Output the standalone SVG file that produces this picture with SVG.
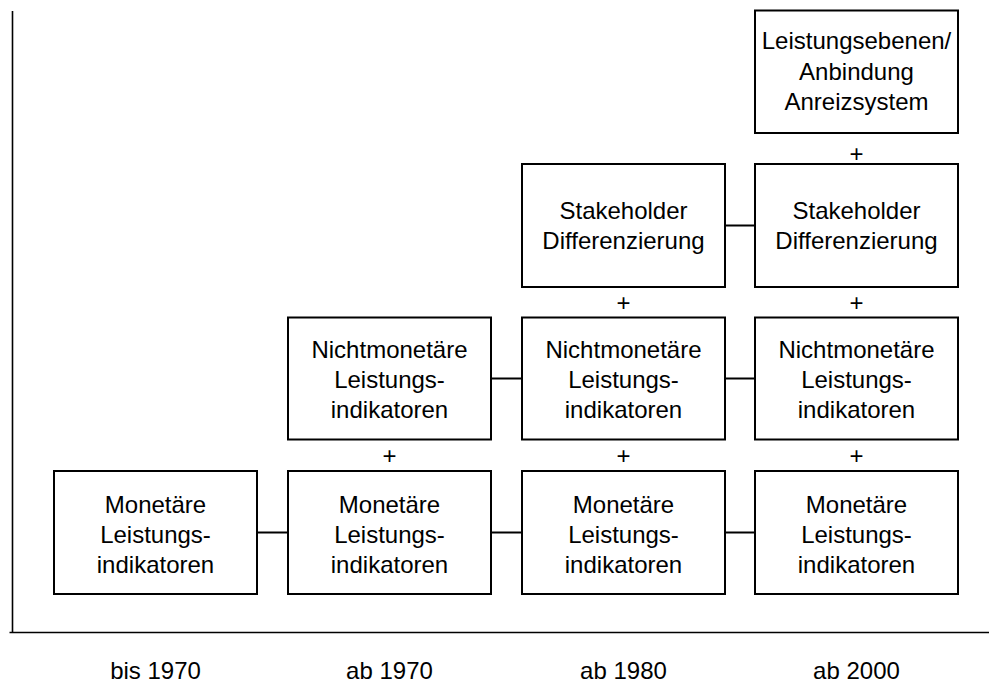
<svg xmlns="http://www.w3.org/2000/svg" width="989" height="684" viewBox="0 0 989 684">
  <style>
    .box rect { fill: #ffffff; stroke: #000000; stroke-width: 2; }
    text { font-family: "Liberation Sans", Arial, sans-serif; font-size: 24px; fill: #000000; text-anchor: middle; }
    .link { stroke: #000000; stroke-width: 2; fill: none; }
    .axis { stroke: #000000; stroke-width: 1.6; fill: none; }
  </style>
  <rect width="989" height="684" fill="#ffffff"/>

  <!-- axes -->
  <g id="axes">
    <line class="axis" x1="12.5" y1="11" x2="12.5" y2="633"/>
    <line class="axis" x1="9.5" y1="632.5" x2="989" y2="632.5"/>
  </g>

  <!-- horizontal connectors between periods -->
  <g id="connectors">
    <line class="link" x1="257" y1="532.5" x2="288" y2="532.5"/>
    <line class="link" x1="491" y1="532.5" x2="522" y2="532.5"/>
    <line class="link" x1="725" y1="532.5" x2="755" y2="532.5"/>
    <line class="link" x1="491" y1="378.5" x2="522" y2="378.5"/>
    <line class="link" x1="725" y1="378.5" x2="755" y2="378.5"/>
    <line class="link" x1="725" y1="225.5" x2="755" y2="225.5"/>
  </g>

  <!-- row 1: Monetäre Leistungsindikatoren -->
  <g id="mon-1970bis" class="box">
    <rect x="54" y="471" width="203" height="123"/>
    <text x="155.5" y="513">Monetäre</text>
    <text x="155.5" y="543">Leistungs-</text>
    <text x="155.5" y="573">indikatoren</text>
  </g>
  <g id="mon-1970" class="box">
    <rect x="288" y="471" width="203" height="123"/>
    <text x="389.5" y="513">Monetäre</text>
    <text x="389.5" y="543">Leistungs-</text>
    <text x="389.5" y="573">indikatoren</text>
  </g>
  <g id="mon-1980" class="box">
    <rect x="522" y="471" width="203" height="123"/>
    <text x="623.5" y="513">Monetäre</text>
    <text x="623.5" y="543">Leistungs-</text>
    <text x="623.5" y="573">indikatoren</text>
  </g>
  <g id="mon-2000" class="box">
    <rect x="755" y="471" width="203" height="123"/>
    <text x="856.5" y="513">Monetäre</text>
    <text x="856.5" y="543">Leistungs-</text>
    <text x="856.5" y="573">indikatoren</text>
  </g>

  <!-- row 2: Nichtmonetäre Leistungsindikatoren -->
  <g id="nmon-1970" class="box">
    <rect x="288" y="317.5" width="203" height="122"/>
    <text x="389.5" y="358">Nichtmonetäre</text>
    <text x="389.5" y="388">Leistungs-</text>
    <text x="389.5" y="418">indikatoren</text>
  </g>
  <g id="nmon-1980" class="box">
    <rect x="522" y="317.5" width="203" height="122"/>
    <text x="623.5" y="358">Nichtmonetäre</text>
    <text x="623.5" y="388">Leistungs-</text>
    <text x="623.5" y="418">indikatoren</text>
  </g>
  <g id="nmon-2000" class="box">
    <rect x="755" y="317.5" width="203" height="122"/>
    <text x="856.5" y="358">Nichtmonetäre</text>
    <text x="856.5" y="388">Leistungs-</text>
    <text x="856.5" y="418">indikatoren</text>
  </g>

  <!-- row 3: Stakeholder Differenzierung -->
  <g id="stake-1980" class="box">
    <rect x="522" y="164" width="203" height="123"/>
    <text x="623.5" y="218.5">Stakeholder</text>
    <text x="623.5" y="248.5">Differenzierung</text>
  </g>
  <g id="stake-2000" class="box">
    <rect x="755" y="164" width="203" height="123"/>
    <text x="856.5" y="218.5">Stakeholder</text>
    <text x="856.5" y="248.5">Differenzierung</text>
  </g>

  <!-- row 4: Leistungsebenen -->
  <g id="ebenen-2000" class="box">
    <rect x="755" y="10.5" width="203" height="122.5"/>
    <text x="856.5" y="49">Leistungsebenen/</text>
    <text x="856.5" y="80">Anbindung</text>
    <text x="856.5" y="110">Anreizsystem</text>
  </g>

  <!-- "+" markers between stacked levels -->
  <g id="plus-signs">
    <text x="389.5" y="464">+</text>
    <text x="623.5" y="464">+</text>
    <text x="856.5" y="464">+</text>
    <text x="623.5" y="311">+</text>
    <text x="856.5" y="311">+</text>
    <text x="856.5" y="162">+</text>
  </g>

  <!-- period labels -->
  <g id="periods">
    <text x="155.5" y="678.5">bis 1970</text>
    <text x="389.5" y="678.5">ab 1970</text>
    <text x="623.5" y="678.5">ab 1980</text>
    <text x="856.5" y="678.5">ab 2000</text>
  </g>
</svg>
